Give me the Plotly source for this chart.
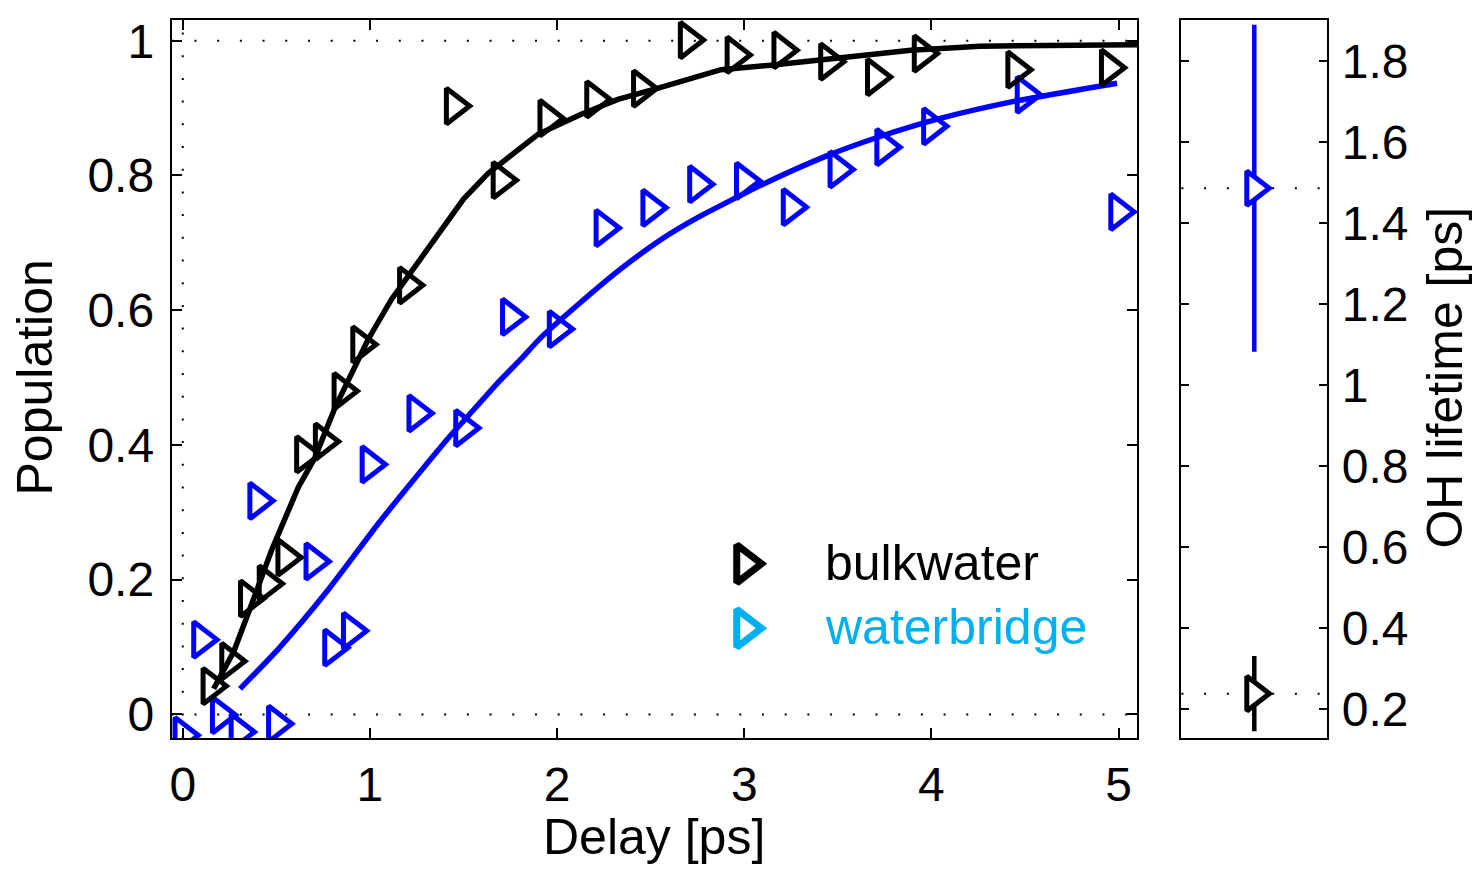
import plotly.graph_objects as go

# ---------------- data ----------------
bulk_delay = [0.15, 0.25, 0.35, 0.45, 0.55, 0.65, 0.75, 0.85, 0.95, 1.2, 1.45, 1.7,
              1.95, 2.2, 2.45, 2.7, 2.95, 3.2, 3.45, 3.7, 3.95, 4.45, 4.95]
bulk_pop = [0.042, 0.079, 0.172, 0.194, 0.233, 0.386, 0.405, 0.480, 0.549, 0.637, 0.903, 0.793,
            0.885, 0.913, 0.929, 1.001, 0.979, 0.986, 0.969, 0.946, 0.981, 0.957, 0.960]

bridge_delay = [0.0, 0.1, 0.2, 0.3, 0.4, 0.5, 0.7, 0.8, 0.9, 1.0, 1.25, 1.5, 1.75, 2.0,
                2.25, 2.5, 2.75, 3.0, 3.25, 3.5, 3.75, 4.0, 4.5, 5.0]
bridge_pop = [-0.031, 0.111, -0.001, -0.026, 0.317, -0.014, 0.227, 0.099, 0.124, 0.371, 0.447,
              0.425, 0.590, 0.572, 0.722, 0.752, 0.787, 0.792, 0.753, 0.809, 0.842, 0.873,
              0.920, 0.746]

bulk_fit_t = [0.165, 0.272, 0.358, 0.475, 0.617, 0.706, 0.813, 0.911, 0.991, 1.115, 1.364,
              1.50, 1.631, 1.898, 2.129, 2.325, 2.545, 2.876, 3.154, 3.522, 3.890, 4.258,
              4.626, 5.10]
bulk_fit_p = [0.038, 0.093, 0.156, 0.244, 0.337, 0.381, 0.455, 0.513, 0.557, 0.616, 0.714,
              0.765, 0.803, 0.861, 0.891, 0.913, 0.930, 0.957, 0.964, 0.976, 0.986, 0.992,
              0.993, 0.994]

bridge_fit_t = [0.306, 0.51, 0.777, 1.044, 1.186, 1.418, 1.515, 1.676, 1.809, 1.916, 2.094,
                2.325, 2.556, 2.748, 3.10, 3.431, 3.706, 4.037, 4.44, 4.992]
bridge_fit_p = [0.038, 0.097, 0.185, 0.283, 0.332, 0.410, 0.440, 0.490, 0.528, 0.560, 0.604,
                0.658, 0.705, 0.737, 0.787, 0.828, 0.856, 0.884, 0.910, 0.937]

series_names = ["bulkwater", "waterbridge"]
lifetime = [0.239, 1.487]          # OH lifetime [ps]
lifetime_err = [0.093, 0.404]

x_ticks = [0, 1, 2, 3, 4, 5]
y_ticks = [0, 0.2, 0.4, 0.6, 0.8, 1]
y_ticklabels = ["0", "0.2", "0.4", "0.6", "0.8", "1"]
life_ticks = [0.2, 0.4, 0.6, 0.8, 1.0, 1.2, 1.4, 1.6, 1.8]
life_ticklabels = ["0.2", "0.4", "0.6", "0.8", "1", "1.2", "1.4", "1.6", "1.8"]

# ---------------- styling ----------------
W, H = 1475, 869
FONT = "Liberation Sans, Arial, Helvetica, sans-serif"
BLACK = "#000000"
BLUE = "#0000FF"
LEGEND_BLUE = "#00AFEF"
TICK_FS = 48
TITLE_FS = 50
MARKER_LW = 5


def px_x(p):
    return p / W


def px_y(p):
    return 1 - p / H


main_dom_x = [px_x(170), px_x(1137)]
side_dom_x = [px_x(1181), px_x(1327)]
dom_y = [px_y(740), px_y(15)]

fig = go.Figure()

# fitted curves
fig.add_trace(go.Scatter(x=bridge_fit_t, y=bridge_fit_p, mode="lines",
                         line=dict(color=BLUE, width=5.5, shape="spline", smoothing=0.6),
                         showlegend=False, xaxis="x", yaxis="y"))
fig.add_trace(go.Scatter(x=bulk_fit_t, y=bulk_fit_p, mode="lines",
                         line=dict(color=BLACK, width=5.5), showlegend=False,
                         xaxis="x", yaxis="y"))
# data points
fig.add_trace(go.Scatter(x=bridge_delay, y=bridge_pop, mode="markers",
                         marker=dict(symbol="triangle-right-open", size=31, color=BLUE,
                                     line=dict(width=MARKER_LW, color=BLUE)),
                         showlegend=False, xaxis="x", yaxis="y"))
fig.add_trace(go.Scatter(x=bulk_delay, y=bulk_pop, mode="markers",
                         marker=dict(symbol="triangle-right-open", size=31, color=BLACK,
                                     line=dict(width=MARKER_LW, color=BLACK)),
                         showlegend=False, xaxis="x", yaxis="y"))

# lifetimes panel
for val, err, col in zip(lifetime, lifetime_err, [BLACK, BLUE]):
    fig.add_trace(go.Scatter(x=[1], y=[val], mode="markers",
                             error_y=dict(type="data", array=[err], color=col,
                                          thickness=4.5, width=0),
                             marker=dict(symbol="triangle-right", size=30, color="white",
                                         line=dict(width=MARKER_LW, color=col)),
                             showlegend=False, xaxis="x2", yaxis="y2"))

# custom legend (large symbols, coloured text) on a hidden full-page axis
legend_cols = [BLACK, LEGEND_BLUE]
legend_rows_px = [564, 629]
for name, col, row in zip(series_names, legend_cols, legend_rows_px):
    fig.add_trace(go.Scatter(x=[px_x(744)], y=[px_y(row)], mode="markers",
                             marker=dict(symbol="triangle-right-open", size=33, color=col,
                                         line=dict(width=7, color=col)),
                             showlegend=False, xaxis="x3", yaxis="y3", hoverinfo="skip"))
    fig.add_annotation(x=px_x(822), y=px_y(row - 1), xref="paper", yref="paper",
                       text=name, showarrow=False, xanchor="left", yanchor="middle",
                       font=dict(family=FONT, size=TITLE_FS, color=col))

# axis titles
fig.add_annotation(x=px_x(33), y=px_y(376), xref="paper", yref="paper", text="Population",
                   textangle=-90, showarrow=False, xanchor="center", yanchor="middle",
                   font=dict(family=FONT, size=TITLE_FS, color=BLACK))
fig.add_annotation(x=px_x(653), y=0, xref="paper", yref="paper", text="Delay [ps]",
                   showarrow=False, xanchor="center", yanchor="bottom", borderpad=0,
                   font=dict(family=FONT, size=TITLE_FS, color=BLACK))
fig.add_annotation(x=px_x(1444), y=px_y(376), xref="paper", yref="paper",
                   text="OH lifetime [ps]", textangle=-90, showarrow=False,
                   xanchor="center", yanchor="middle",
                   font=dict(family=FONT, size=TITLE_FS, color=BLACK))

# dotted reference lines
DOT = "2px,20.7px"
fig.add_shape(type="line", xref="x domain", yref="y", x0=0, x1=1, y0=0, y1=0,
              line=dict(color=BLACK, width=2, dash=DOT), layer="below")
fig.add_shape(type="line", xref="x domain", yref="y", x0=0, x1=1, y0=1, y1=1,
              line=dict(color=BLACK, width=2, dash=DOT), layer="below")
fig.add_shape(type="line", xref="x", yref="y domain", x0=0, x1=0, y0=0, y1=1,
              line=dict(color=BLACK, width=2, dash=DOT), layer="below")
for val in lifetime:
    fig.add_shape(type="line", xref="x2 domain", yref="y2", x0=0, x1=1, y0=val, y1=val,
                  line=dict(color=BLACK, width=2, dash=DOT), layer="below")

axis_common = dict(showline=True, linewidth=2, linecolor=BLACK, mirror="ticks",
                   ticks="inside", ticklen=10, tickwidth=2, tickcolor=BLACK,
                   showgrid=False, zeroline=False,
                   tickfont=dict(family=FONT, size=TICK_FS, color=BLACK))

fig.update_layout(
    width=W, height=H,
    margin=dict(l=0, r=0, t=0, b=0),
    paper_bgcolor="white", plot_bgcolor="rgba(0,0,0,0)",
    showlegend=False,
    xaxis=dict(domain=main_dom_x, range=[-0.0587, 5.101], tickvals=x_ticks,
               anchor="y", ticklabelstandoff=3, **axis_common),
    yaxis=dict(domain=dom_y, range=[-0.0353, 1.031], tickvals=y_ticks,
               ticktext=y_ticklabels, anchor="x", ticklabelstandoff=6, **axis_common),
    xaxis2=dict(domain=side_dom_x, range=[0, 2], anchor="y2", showline=True, linewidth=2,
                linecolor=BLACK, mirror=True, ticks="", showticklabels=False,
                showgrid=False, zeroline=False),
    yaxis2=dict(domain=dom_y, range=[0.129, 1.9028], tickvals=life_ticks,
                ticktext=life_ticklabels, anchor="x2", side="right",
                ticklabelstandoff=3, **axis_common),
    xaxis3=dict(domain=[0, 1], range=[0, 1], anchor="y3", visible=False, fixedrange=True),
    yaxis3=dict(domain=[0, 1], range=[0, 1], anchor="x3", visible=False, fixedrange=True),
)
fig.update_layout(yaxis2_ticklen=8)

fig.write_html("out.html")
